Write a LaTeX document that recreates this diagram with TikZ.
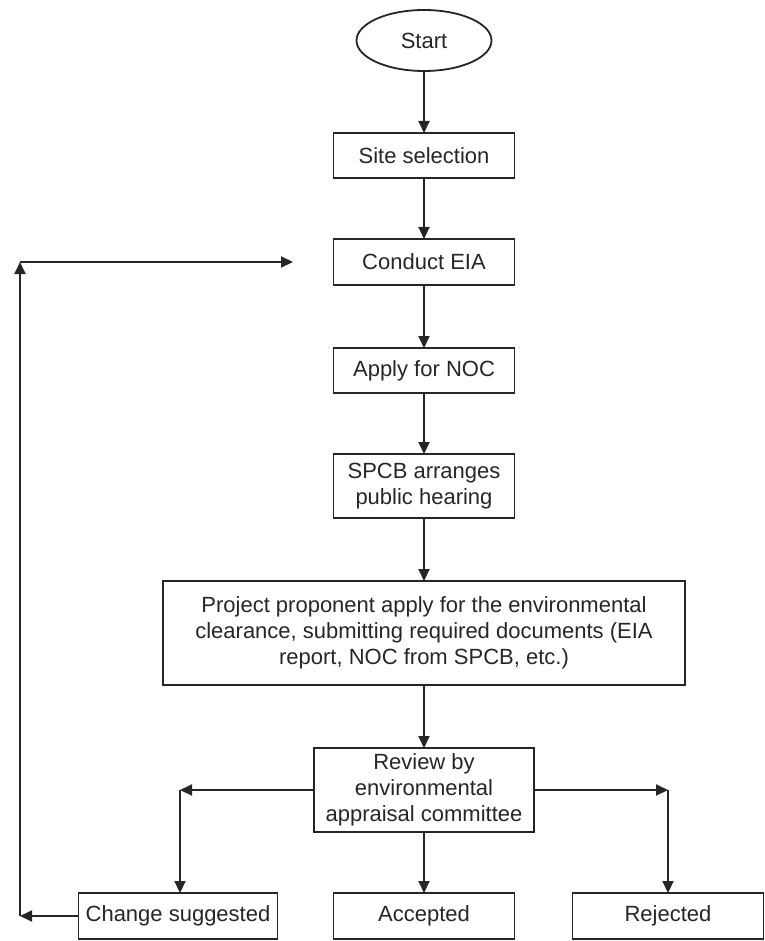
\documentclass[tikz,border=0pt]{standalone}
\usepackage{fontspec}
\setmainfont{Liberation Sans}
\usetikzlibrary{shapes.geometric,arrows.meta}
\definecolor{ink}{HTML}{262626}
\begin{document}
\begin{tikzpicture}[x=1pt,y=-1pt,
  box/.style={draw=ink, line width=1.8pt, inner sep=0pt, outer sep=0pt, align=center,
    text=ink, font=\fontsize{22}{26}\selectfont},
  startnode/.style={box, ellipse},
  arr/.style={draw=ink, line width=2pt, -{Triangle[length=12pt,width=11pt]}}]
\useasboundingbox (0,0) rectangle (764,941);
\node[startnode, minimum width=135pt, minimum height=61pt] (start) at (424,40.5) {Start};
\node[box, minimum width=181pt, minimum height=45pt] (site) at (424,155.5) {Site selection};
\node[box, minimum width=181pt, minimum height=46pt] (eia) at (424,262) {Conduct EIA};
\node[box, minimum width=181pt, minimum height=45pt] (noc) at (424,370.5) {Apply for NOC};
\node[box, minimum width=181pt, minimum height=64pt] (spcb) at (424,486) {SPCB arranges\\public hearing};
\node[box, minimum width=522pt, minimum height=104pt] (proj) at (424,633)
  {Project proponent apply for the environmental\\clearance, submitting required documents (EIA\\report, NOC from SPCB, etc.)};
\node[box, minimum width=220pt, minimum height=84pt] (review) at (424,790) {Review by\\environmental\\appraisal committee};
\node[box, minimum width=199pt, minimum height=46pt] (cs) at (178,916) {Change suggested};
\node[box, minimum width=181pt, minimum height=46pt] (acc) at (424,916) {Accepted};
\node[box, minimum width=191pt, minimum height=46pt] (rej) at (668,916) {Rejected};

\draw[arr] (start.south) -- (start.south |- site.north);
\draw[arr] (site.south) -- (site.south |- eia.north);
\draw[arr] (eia.south) -- (eia.south |- noc.north);
\draw[arr] (noc.south) -- (noc.south |- spcb.north);
\draw[arr] (spcb.south) -- (spcb.south |- proj.north);
\draw[arr] (proj.south) -- (proj.south |- review.north);
\draw[arr] (review.south) -- (review.south |- acc.north);

\coordinate (lc) at (180,790);
\coordinate (rc) at (668,790);
\draw[arr] (review.west) -- (lc);
\draw[arr] (lc) -- (lc |- cs.north);
\draw[arr] (review.east) -- (rc);
\draw[arr] (rc) -- (rc |- rej.north);

\coordinate (lb) at (20,916);
\coordinate (lt) at (20,262);
\coordinate (lr) at (293,262);
\draw[arr] (cs.west) -- (lb);
\draw[arr] (lb) -- (lt);
\draw[arr] (lt) -- (lr);
\end{tikzpicture}
\end{document}
